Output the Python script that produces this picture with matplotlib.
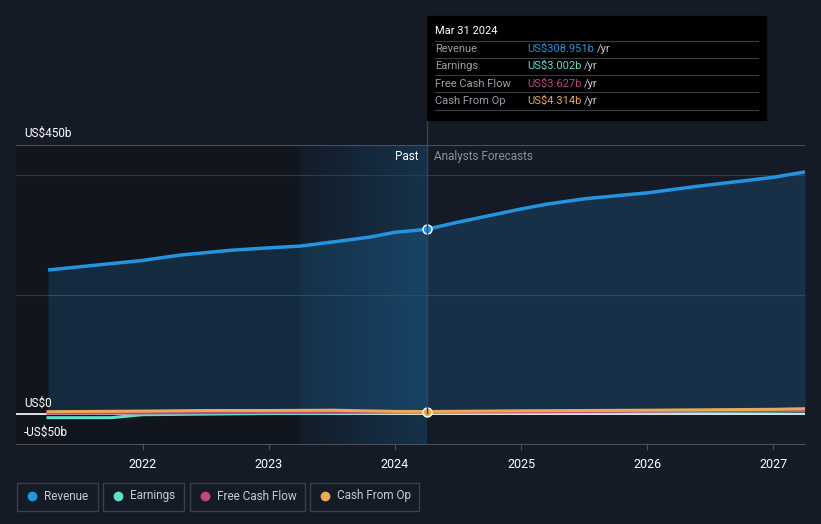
import numpy as np
import matplotlib
matplotlib.use('Agg')
import matplotlib.pyplot as plt
from matplotlib.patches import Rectangle
from matplotlib.colors import LinearSegmentedColormap

plt.rcParams['font.family'] = ['Roboto', 'DejaVu Sans']

# values in US$ billions, x in fractional years
rev_x = [2021.25, 2022.0, 2022.3, 2022.7, 2023.0, 2023.25, 2023.55, 2023.8, 2024.0, 2024.25]
rev_y = [241, 257, 266, 274, 278, 281, 289, 296, 304, 309]
fc_rev_x = [2024.25, 2024.5, 2025.0, 2025.2, 2025.5, 2026.0, 2026.4, 2027.0, 2027.25]
fc_rev_y = [309, 321, 343, 351, 360, 370, 381, 396, 405]

earn_x = [2021.25, 2021.5, 2021.75, 2022.0, 2022.5, 2023.0, 2023.5, 2024.0, 2024.25, 2025.0, 2026.0, 2027.0, 2027.25]
earn_y = [-6, -6, -6, -1, 0, 1, 1.5, 2.5, 3.0, 3.5, 4, 5, 5.5]
fcf_x = [2021.25, 2022.0, 2022.5, 2023.0, 2023.5, 2024.0, 2024.25, 2025.0, 2026.0, 2027.0, 2027.25]
fcf_y = [1.5, 2, 2.5, 3, 3, 3.5, 3.6, 4, 5, 6, 6.5]
cfo_x = [2021.25, 2022.0, 2022.5, 2023.0, 2023.5, 2024.0, 2024.25, 2025.0, 2026.0, 2027.0, 2027.25]
cfo_y = [4, 5, 6, 6, 6.5, 4.5, 4.3, 5.5, 6.5, 8, 9]

now = 2024.25
years = [2022, 2023, 2024, 2025, 2026, 2027]

BG = '#151b26'
BLUE = '#2394df'
TEAL = '#5ee0c9'
PINK = '#c2457f'
ORANGE = '#e9a955'

fig = plt.figure(figsize=(8.21, 5.24), dpi=100, facecolor=BG)
ax = fig.add_axes([16/821, 80/524, 789/821, 299/524])
ax.set_facecolor(BG)
ax.set_xlim(2021.25 - 32/126, 2027.25)
ax.set_ylim(-50, 450)

# past region darker, last year highlighted
ax.axvspan(ax.get_xlim()[0], 2023.25, color='#11151d', zorder=0)
grad = np.linspace(0, 1, 256).reshape(1, -1)
cm = LinearSegmentedColormap.from_list('g', ['#131c29', '#16324b'])
ax.imshow(grad, extent=[2023.25, now, -50, 450], aspect='auto', cmap=cm, zorder=0.5)

for gy in [0, 200, 400]:
    ax.axhline(gy, color='#343a45', lw=0.8, zorder=1)
ax.axhline(450, color='#4a505a', lw=0.8, zorder=1)
ax.axhline(0, color='white', lw=1.2, zorder=4)

all_rx = rev_x + fc_rev_x[1:]
all_ry = rev_y + fc_rev_y[1:]
ax.fill_between(all_rx, 0, all_ry, color=BLUE, alpha=0.18, lw=0, zorder=2)
ax.plot(all_rx, all_ry, color=BLUE, lw=2.5, zorder=5, solid_capstyle='butt')
ax.plot(earn_x, earn_y, color=TEAL, lw=2.2, zorder=5)
ax.plot(fcf_x, fcf_y, color=PINK, lw=2.2, zorder=5)
ax.plot(cfo_x, cfo_y, color=ORANGE, lw=2.2, zorder=6)

ax.plot([now], [309], 'o', ms=6.5, mfc=BLUE, mec='white', mew=1, zorder=7)
ax.plot([now], [4.3], 'o', ms=6.5, mfc=ORANGE, mec='white', mew=1, zorder=7)

for s in ax.spines.values():
    s.set_visible(False)
ax.spines['bottom'].set_visible(True)
ax.spines['bottom'].set_color('#4a505a')
ax.set_yticks([])
ax.set_xticks(years)
ax.set_xticklabels([str(y) for y in years], color='white', fontsize=9)
ax.tick_params(axis='x', colors='#4a505a', length=4, pad=6, labelcolor='white')

ax.text(2021.25 - 24/126, 459, 'US$450b', color='white', fontsize=8.5, va='bottom')
ax.text(2021.25 - 24/126, 8, 'US$0', color='white', fontsize=8.5, va='bottom')
ax.text(2021.25 - 24/126, -31, '-US$50b', color='white', fontsize=8.5, va='center')
ax.text(now - 0.06, 430, 'Past', color='white', fontsize=8.5, ha='right', va='center')
ax.text(now + 0.06, 430, 'Analysts Forecasts', color='#8a8f98', fontsize=8.5, ha='left', va='center')

# vertical marker line up to the tooltip
fig.add_artist(plt.Line2D([427/821, 427/821], [(524-413)/524, (524-18)/524],
                          color='#3b4250', lw=1, zorder=3))

# tooltip
fig.add_artist(Rectangle((427/821, (524-120)/524), 339/821, 104/524,
                         transform=fig.transFigure, color='black', zorder=8))
fig.text(435/821, (524-31)/524, 'Mar 31 2024', color='white', fontsize=8, va='center', zorder=9)
rows = [('Revenue', 'US$308.951b', BLUE), ('Earnings', 'US$3.002b', TEAL),
        ('Free Cash Flow', 'US$3.627b', PINK), ('Cash From Op', 'US$4.314b', ORANGE)]
renderer = fig.canvas.get_renderer()
for i, (name, val, col) in enumerate(rows):
    yc = (524 - (49 + i * 17.3)) / 524
    fig.text(435/821, yc, name, color='#9a9ea6', fontsize=8, va='center', zorder=9)
    t = fig.text(527/821, yc, val, color=col, fontsize=8, va='center', zorder=9)
    w = t.get_window_extent(renderer).width
    fig.text((527 + w + 3)/821, yc, '/yr', color='#c8cbd0', fontsize=8, va='center', zorder=9)
    ly = (524 - (40.5 + i * 17.3)) / 524
    fig.add_artist(plt.Line2D([435/821, 758/821], [ly, ly], color='#3a3d44', lw=0.8, zorder=9))
ly = (524 - (40.5 + 4 * 17.3)) / 524
fig.add_artist(plt.Line2D([435/821, 758/821], [ly, ly], color='#3a3d44', lw=0.8, zorder=9))

# legend boxes
legend = [('Revenue', BLUE, 17, 81), ('Earnings', TEAL, 103, 81), ('Free Cash Flow', PINK, 190, 115),
          ('Cash From Op', ORANGE, 310, 109)]
for name, col, x0, w in legend:
    fig.add_artist(Rectangle((x0/821, (524-511)/524), w/821, 28/524,
                             transform=fig.transFigure, fc='none', ec='#3a3f4a', lw=1))
    fig.add_artist(plt.Line2D([(x0 + 15)/821], [(524-496)/524], marker='o', ms=6,
                              color=col, transform=fig.transFigure))
    fig.text((x0 + 27)/821, (524-496)/524, name, color='#c8cbd0', fontsize=8.5, va='center')

fig.savefig('out.png', dpi=100, facecolor=BG)
